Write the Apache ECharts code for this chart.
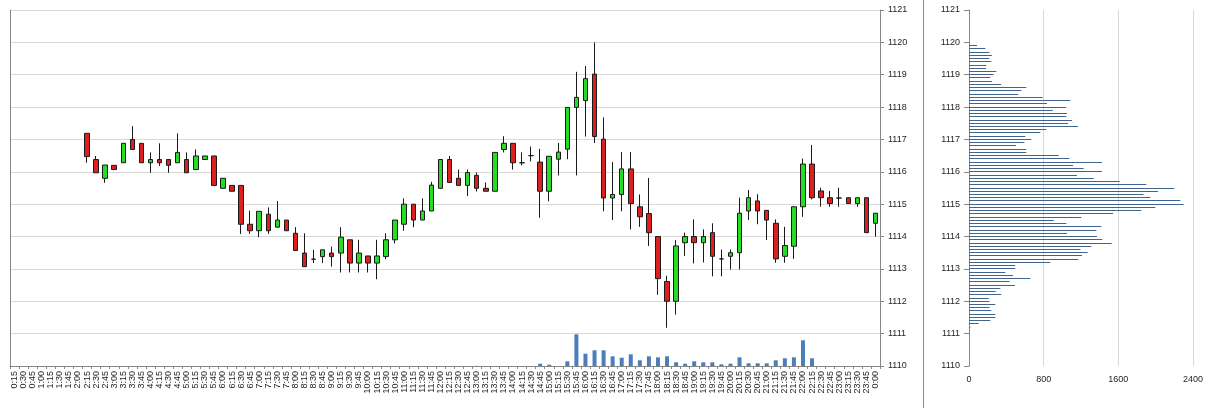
<!DOCTYPE html>
<html>
<head>
<meta charset="utf-8">
<script src="https://cdn.jsdelivr.net/npm/echarts@6/dist/echarts.min.js"></script>
<style>
html,body{margin:0;padding:0;background:#fff;}
#chart{width:1211px;height:408px;}
</style>
</head>
<body>
<div id="chart"></div>
<script>
// ---- Category (time) tick labels ----
const categories = [
  '0:15','0:30','0:45','1:00','1:15','1:30','1:45','2:00','2:15','2:30','2:45','3:00',
  '3:15','3:30','3:45','4:00','4:15','4:30','4:45','5:00','5:15','5:30','5:45','6:00',
  '6:15','6:30','6:45','7:00','7:15','7:30','7:45','8:00','8:15','8:30','8:45','9:00',
  '9:15','9:30','9:45','10:00','10:15','10:30','10:45','11:00','11:15','11:30','11:45','12:00',
  '12:15','12:30','12:45','13:00','13:15','13:30','13:45','14:00','14:15','14:30','14:45','15:00',
  '15:15','15:30','15:45','16:00','16:15','16:30','16:45','17:00','17:15','17:30','17:45','18:00',
  '18:15','18:30','18:45','19:00','19:15','19:30','19:45','20:00','20:15','20:30','20:45','21:00',
  '21:15','21:30','21:45','22:00','22:15','22:30','22:45','23:00','23:15','23:30','23:45','0:00'
];

// First category that has a candle
const firstCandle = '2:15';

// ---- OHLC values, one per category from 2:15 to 0:00 ----
const opens = [
  1117.19,1116.38,1115.80,1116.20,1116.28,1117.00,1116.88,1116.28,1116.38,1116.38,
  1116.28,1116.38,1116.07,1116.38,1116.49,1115.49,1115.58,1115.58,1114.38,1114.18,
  1114.69,1114.29,1114.51,1114.10,1113.49,1113.30,1113.38,1113.49,1113.49,1113.90,
  1113.18,1113.40,1113.18,1113.38,1113.90,1114.38,1115.00,1114.51,1114.79,1115.49,
  1116.38,1115.80,1115.58,1115.89,1115.49,1115.40,1116.69,1116.88,1116.28,1116.50,
  1116.30,1115.40,1116.39,1116.70,1117.99,1118.20,1119.02,1117.01,1115.19,1115.30,
  1116.09,1114.92,1114.71,1114.00,1112.61,1112.00,1113.81,1114.00,1113.81,1114.12,
  1113.31,1113.39,1113.50,1114.79,1115.10,1114.81,1114.41,1113.39,1113.70,1114.92,
  1116.24,1115.41,1115.20,1115.19,1115.20,1115.02,1115.20,1114.41
];
const highs = [
  1117.19,1116.49,1116.21,1116.20,1116.88,1117.41,1116.88,1116.60,1116.88,1116.38,
  1117.19,1116.60,1116.69,1116.49,1116.49,1115.80,1115.58,1115.58,1114.80,1114.78,
  1114.90,1115.10,1114.51,1114.29,1114.10,1113.59,1113.59,1113.69,1114.29,1113.90,
  1113.90,1113.40,1113.90,1114.10,1114.51,1115.18,1115.00,1115.18,1115.69,1116.38,
  1116.49,1116.07,1116.07,1115.98,1115.67,1116.60,1117.10,1116.88,1116.60,1116.78,
  1116.71,1116.48,1116.89,1117.99,1119.09,1119.27,1120.00,1117.68,1116.30,1116.61,
  1116.61,1115.30,1115.81,1114.00,1112.79,1113.89,1114.12,1114.53,1114.22,1114.41,
  1113.60,1113.60,1115.20,1115.44,1115.31,1114.81,1114.53,1114.30,1114.92,1116.41,
  1116.83,1115.51,1115.41,1115.51,1115.20,1115.20,1115.20,1114.72
];
const lows = [
  1116.28,1115.97,1115.66,1116.07,1116.28,1116.69,1116.28,1115.97,1116.18,1115.97,
  1116.28,1115.97,1116.07,1116.38,1115.58,1115.49,1115.40,1114.08,1114.08,1113.98,
  1114.08,1114.29,1114.18,1113.57,1113.07,1113.18,1113.18,1113.07,1112.89,1112.89,
  1112.89,1112.89,1112.68,1113.30,1113.79,1114.18,1114.29,1114.51,1114.79,1115.49,
  1115.67,1115.58,1115.25,1115.39,1115.40,1115.40,1116.60,1116.07,1116.20,1116.32,
  1114.58,1115.09,1115.89,1116.39,1115.89,1117.09,1116.89,1114.78,1114.51,1114.78,
  1114.22,1114.30,1113.71,1112.20,1111.18,1111.59,1113.40,1113.17,1113.20,1112.77,
  1112.77,1112.98,1112.98,1114.51,1114.38,1113.89,1113.19,1113.19,1113.31,1114.61,
  1115.15,1114.92,1114.92,1114.92,1115.02,1114.92,1114.12,1114.00
];
const closes = [
  1116.47,1115.97,1116.21,1116.07,1116.88,1116.69,1116.28,1116.38,1116.28,1116.20,
  1116.60,1115.97,1116.49,1116.49,1115.58,1115.80,1115.40,1114.38,1114.18,1114.78,
  1114.18,1114.51,1114.18,1113.57,1113.07,1113.30,1113.59,1113.38,1113.98,1113.18,
  1113.49,1113.18,1113.40,1113.90,1114.51,1115.00,1114.51,1114.79,1115.59,1116.38,
  1115.67,1115.58,1115.98,1115.49,1115.40,1116.60,1116.88,1116.28,1116.28,1116.50,
  1115.40,1116.48,1116.61,1117.99,1118.30,1118.88,1117.09,1115.19,1115.30,1116.09,
  1115.02,1114.61,1114.12,1112.70,1112.00,1113.71,1114.00,1113.81,1114.00,1113.39,
  1113.31,1113.50,1114.72,1115.20,1114.79,1114.51,1113.31,1113.72,1114.92,1116.24,
  1115.20,1115.20,1115.02,1115.19,1115.02,1115.20,1114.12,1114.72
];
// ---- Volume per candle (same categories as the candles) ----
const volumes = [
  0,0,0,0,0,0,0,0,0,0,
  0,0,0,0,0,0,0,0,0,0,
  0,0,0,0,0,0,0,0,0,0,
  0,0,0,0,0,0,0,0,0,0,
  0,0,0,10,0,0,0,0,0,0,
  230,130,0,470,3170,1230,1570,1570,970,830,
  1170,570,970,870,970,370,230,470,370,370,
  170,230,870,270,270,270,570,770,870,2570,
  770,0,0,0,0,0,0,0
];

// ---- Volume profile (right panel) ----
const profilePrices = [
  1119.9,1119.8,1119.7,1119.6,1119.5,1119.4,1119.3,1119.2,1119.1,1119.0,
  1118.9,1118.8,1118.7,1118.6,1118.5,1118.4,1118.3,1118.2,1118.1,1118.0,
  1117.9,1117.8,1117.7,1117.6,1117.5,1117.4,1117.3,1117.2,1117.1,1117.0,
  1116.9,1116.8,1116.7,1116.6,1116.5,1116.4,1116.3,1116.2,1116.1,1116.0,
  1115.9,1115.8,1115.7,1115.6,1115.5,1115.4,1115.3,1115.2,1115.1,1115.0,
  1114.9,1114.8,1114.7,1114.6,1114.5,1114.4,1114.3,1114.2,1114.1,1114.0,
  1113.9,1113.8,1113.7,1113.6,1113.5,1113.4,1113.3,1113.2,1113.1,1113.0,
  1112.9,1112.8,1112.7,1112.6,1112.5,1112.4,1112.3,1112.2,1112.1,1112.0,
  1111.9,1111.8,1111.7,1111.6,1111.5,1111.4,1111.3,1111.2
];
const profileVolumes = [
  86,175,218,246,218,239,186,182,293,264,
  229,246,343,614,561,525,789,1086,836,1043,
  896,1050,1043,1103,1061,1168,829,764,604,668,
  593,504,614,614,961,1075,1425,1114,1228,1425,
  1157,1336,1614,1900,2200,2025,1870,1943,2264,2300,
  1996,1846,1543,1203,907,1043,1418,1364,1050,1371,
  1428,1528,1311,1193,1271,1211,1171,871,496,496,
  389,471,657,436,493,336,286,346,211,218,
  282,221,239,282,282,229,104,14
];

const startIdx = categories.indexOf(firstCandle);
const candleData = categories.map(function (c, i) {
  const k = i - startIdx;
  if (k < 0) return ['-', '-', '-', '-'];
  return [opens[k], closes[k], lows[k], highs[k]];
});
const volumeData = categories.map(function (c, i) {
  const k = i - startIdx;
  return k < 0 ? 0 : volumes[k];
});
const profileData = profilePrices.map(function (p, i) { return [profileVolumes[i], p]; });

const axisGray = '#868686';
const gridGray = '#d9d9d9';
const textColor = '#1e1e1e';
const fontFamily = '"Liberation Sans", Arial, sans-serif';
const plain = function (v) { return String(v); };

const chart = echarts.init(document.getElementById('chart'), null, { renderer: 'canvas' });
chart.setOption({
  animation: false,
  backgroundColor: '#ffffff',
  textStyle: { fontFamily: fontFamily },
  grid: [
    { left: 10, right: 331, top: 10, bottom: 42 },
    { left: 969, right: 18, top: 10, bottom: 42 }
  ],
  xAxis: [
    {
      type: 'category', gridIndex: 0, data: categories, boundaryGap: true,
      axisLine: { show: true, lineStyle: { color: axisGray } },
      axisTick: { show: true, interval: 0, length: 3, lineStyle: { color: axisGray } },
      axisLabel: { interval: 0, rotate: 90, fontSize: 9, color: textColor, margin: 5, fontFamily: fontFamily },
      splitLine: { show: false }
    },
    {
      type: 'value', gridIndex: 1, min: 0, max: 2400, interval: 800,
      axisLine: { show: false }, axisTick: { show: false },
      axisLabel: { fontSize: 9, color: textColor, margin: 9, fontFamily: fontFamily, formatter: plain },
      splitLine: { show: true, lineStyle: { color: gridGray } }
    }
  ],
  yAxis: [
    {
      type: 'value', gridIndex: 0, position: 'right', min: 1110, max: 1121, interval: 1,
      axisLine: { show: true, lineStyle: { color: axisGray } },
      axisTick: { show: true, length: 4, lineStyle: { color: axisGray } },
      axisLabel: { fontSize: 9, color: textColor, margin: 8, fontFamily: fontFamily, formatter: plain },
      splitLine: { show: true, lineStyle: { color: gridGray } }
    },
    {
      type: 'value', gridIndex: 0, position: 'left', min: 0, max: 35600,
      axisLine: { show: true, lineStyle: { color: axisGray } },
      axisTick: { show: false }, axisLabel: { show: false }, splitLine: { show: false }
    },
    {
      type: 'value', gridIndex: 1, position: 'left', min: 1110, max: 1121, interval: 1,
      axisLine: { show: true, lineStyle: { color: axisGray } },
      axisTick: { show: true, length: 5, lineStyle: { color: axisGray } },
      axisLabel: { fontSize: 9, color: textColor, margin: 9, fontFamily: fontFamily, formatter: plain },
      splitLine: { show: false }
    }
  ],
  graphic: [
    {
      type: 'line', z: 100,
      shape: { x1: 923.5, y1: 0, x2: 923.5, y2: 408 },
      style: { stroke: '#8c8c8c', lineWidth: 1 }
    }
  ],
  series: [
    {
      type: 'bar', name: 'Volume', xAxisIndex: 0, yAxisIndex: 1,
      data: volumeData, barWidth: 4,
      itemStyle: { color: '#4a7ebb' }
    },
    {
      type: 'candlestick', name: 'Price', xAxisIndex: 0, yAxisIndex: 0,
      data: candleData, barWidth: 5,
      itemStyle: {
        color: '#26dd26', color0: '#dd1f1f',
        borderColor: '#1a1a1a', borderColor0: '#1a1a1a', borderWidth: 1
      }
    },
    {
      type: 'custom', name: 'Profile', xAxisIndex: 1, yAxisIndex: 2,
      data: profileData,
      encode: { x: 0, y: 1 },
      renderItem: function (params, api) {
        const start = api.coord([0, api.value(1)]);
        const end = api.coord([api.value(0), api.value(1)]);
        return {
          type: 'rect',
          shape: { x: Math.round(start[0]), y: Math.floor(start[1]), width: end[0] - Math.round(start[0]), height: 1 },
          style: { fill: '#41648f' }
        };
      }
    }
  ]
});
</script>
</body>
</html>
